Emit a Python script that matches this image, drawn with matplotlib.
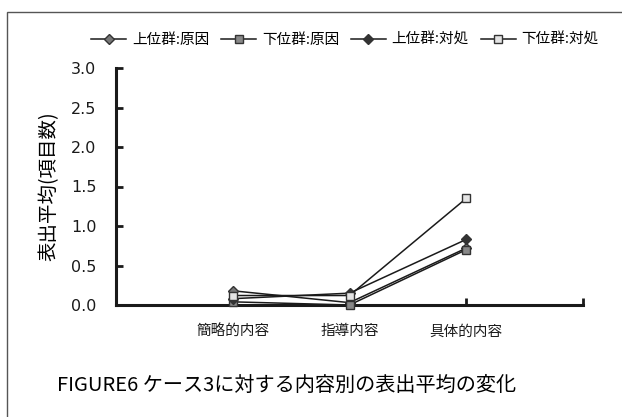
import matplotlib
matplotlib.use("Agg")
import matplotlib.pyplot as plt
from matplotlib.patches import Rectangle

plt.rcParams['font.family'] = ['Noto Sans CJK JP', 'DejaVu Sans']

categories = ['簡略的内容', '指導内容', '具体的内容']
series_names = ['上位群:原因', '下位群:原因', '上位群:対処', '下位群:対処']
upper_cause = [0.18, 0.03, 0.72]
lower_cause = [0.04, 0.00, 0.70]
upper_coping = [0.08, 0.15, 0.83]
lower_coping = [0.12, 0.12, 1.35]
yticks = [0.0, 0.5, 1.0, 1.5, 2.0, 2.5, 3.0]
caption = 'FIGURE6 ケース3に対する内容別の表出平均の変化'
ylabel = '表出平均(項目数)'

fig = plt.figure(figsize=(6.22, 4.17), dpi=100)
ax = fig.add_axes([116/622, 1-305/417, (583-116)/622, (305-68)/417])

x = [1, 2, 3]
styles = [
    (upper_cause, 'D', '#777777', 5),
    (lower_cause, 's', '#888888', 6),
    (upper_coping, 'D', '#333333', 5),
    (lower_coping, 's', '#e4e4e4', 6),
]
handles = []
for (vals, m, fc, ms), name in zip(styles, series_names):
    h, = ax.plot(x, vals, color='#1a1a1a', lw=1.1, marker=m, markersize=ms,
                 markerfacecolor=fc, markeredgecolor='#333333', markeredgewidth=1.0,
                 label=name, clip_on=False, zorder=3)
    handles.append(h)

ax.set_xlim(0, 4)
ax.set_ylim(0, 3)
ax.set_xticks([0, 1, 2, 3, 4])
ax.set_xticklabels([''] + categories + [''], fontsize=10.5)
ax.set_yticks(yticks)
ax.set_yticklabels([f'{v:.1f}' for v in yticks], fontsize=11.5, family='DejaVu Sans', color='#222222')
ax.tick_params(axis='x', direction='in', length=5, width=2, pad=14, colors='#1a1a1a')
ax.tick_params(axis='y', direction='in', length=5, width=2, pad=14, colors='#1a1a1a')
for s in ['top', 'right']:
    ax.spines[s].set_visible(False)
for s in ['left', 'bottom']:
    ax.spines[s].set_linewidth(2.2)
    ax.spines[s].set_color('#1a1a1a')
ax.set_ylabel(ylabel, fontsize=14, labelpad=8)

fig.legend(handles=handles, loc='center', bbox_to_anchor=(345/622, 1-40/417), ncol=4,
           frameon=False, fontsize=10.5, handlelength=2.4, handletextpad=0.4,
           columnspacing=0.8)

fig.text(57/622, 1-385/417, caption, fontsize=14.5, va='center', ha='left')

fig.patches.append(Rectangle((7/622, -0.1), 1.2, 1-12/417+0.1, transform=fig.transFigure,
                             fill=False, edgecolor='#555555', lw=1.0))

fig.savefig('out.png', dpi=100)
